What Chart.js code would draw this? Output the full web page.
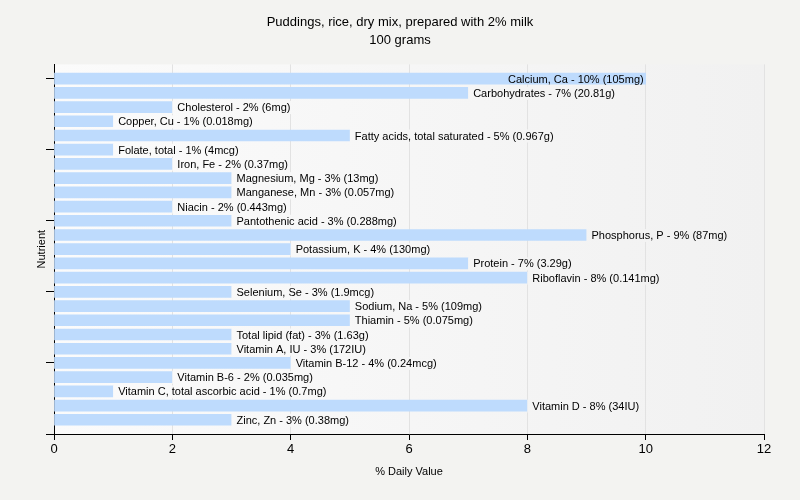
<!DOCTYPE html>
<html>
<head>
<meta charset="utf-8">
<script src="https://cdn.jsdelivr.net/npm/chart.js@4/dist/chart.umd.min.js"></script>
<style>
  html, body { margin: 0; padding: 0; background: #f3f3f1; }
  #wrap { width: 800px; height: 500px; }
</style>
</head>
<body>
<div id="wrap"><canvas id="chart" width="800" height="500"></canvas></div>
<script>
// nutrient names, % daily value and the amount shown in brackets
var nutrients = ["Calcium, Ca", "Carbohydrates", "Cholesterol", "Copper, Cu", "Fatty acids, total saturated",
  "Folate, total", "Iron, Fe", "Magnesium, Mg", "Manganese, Mn", "Niacin", "Pantothenic acid",
  "Phosphorus, P", "Potassium, K", "Protein", "Riboflavin", "Selenium, Se", "Sodium, Na", "Thiamin",
  "Total lipid (fat)", "Vitamin A, IU", "Vitamin B-12", "Vitamin B-6", "Vitamin C, total ascorbic acid",
  "Vitamin D", "Zinc, Zn"];
var dailyValue = [10, 7, 2, 1, 5, 1, 2, 3, 3, 2, 3, 9, 4, 7, 8, 3, 5, 5, 3, 3, 4, 2, 1, 8, 3];
var amounts = ["105mg", "20.81g", "6mg", "0.018mg", "0.967g", "4mcg", "0.37mg", "13mg", "0.057mg",
  "0.443mg", "0.288mg", "87mg", "130mg", "3.29g", "0.141mg", "1.9mcg", "109mg", "0.075mg", "1.63g",
  "172IU", "0.24mcg", "0.035mg", "0.7mg", "34IU", "0.38mg"];
var xTicks = [0, 2, 4, 6, 8, 10, 12];
var yTicks = [0, 5, 10, 15, 20, 25];

var FONT = "'Liberation Sans', Arial, sans-serif";

var points = dailyValue.map(function (v, i) { return { x: v, y: i }; });

function plotGradient(ctx, a) {
  var g = ctx.createLinearGradient(a.left, 0, a.right, 0);
  g.addColorStop(0, '#fbfbfb');
  g.addColorStop(1, '#f1f1f1');
  return g;
}

// page + plot background
var backgroundPlugin = {
  id: 'bg',
  beforeDraw: function (chart) {
    var ctx = chart.ctx, a = chart.chartArea;
    ctx.save();
    ctx.fillStyle = '#f3f3f1';
    ctx.fillRect(0, 0, chart.width, chart.height);
    ctx.fillStyle = plotGradient(ctx, a);
    ctx.fillRect(a.left, a.top, a.right - a.left, a.bottom - a.top);
    ctx.restore();
  }
};

// text next to (or inside) each bar
var labelPlugin = {
  id: 'barLabels',
  afterDatasetsDraw: function (chart) {
    var ctx = chart.ctx, a = chart.chartArea;
    var meta = chart.getDatasetMeta(0);
    ctx.save();
    ctx.font = '11px ' + FONT;
    ctx.textBaseline = 'middle';
    meta.data.forEach(function (bar, i) {
      var txt = nutrients[i] + ' - ' + dailyValue[i] + '% (' + amounts[i] + ')';
      var w = ctx.measureText(txt).width;
      if (bar.x + 5 + w > a.right) {
        ctx.textAlign = 'right';
        ctx.fillStyle = '#000';
        ctx.fillText(txt, bar.x - 2, bar.y + 1);
      } else {
        // box in plot colour hides the grid line behind the text
        ctx.fillStyle = plotGradient(ctx, a);
        ctx.fillRect(bar.x, bar.y - 6, w + 7, 13);
        ctx.textAlign = 'left';
        ctx.fillStyle = '#000';
        ctx.fillText(txt, bar.x + 5, bar.y + 1);
      }
    });
    ctx.restore();
  }
};

var ctx = document.getElementById('chart').getContext('2d');
var chart = new Chart(ctx, {
  type: 'bar',
  data: {
    datasets: [{
      data: points,
      backgroundColor: 'rgb(190, 219, 253)',
      borderWidth: 0,
      barThickness: 11
    }]
  },
  plugins: [backgroundPlugin, labelPlugin],
  options: {
    indexAxis: 'y',
    responsive: false,
    animation: false,
    layout: { padding: 0 },
    plugins: {
      legend: { display: false },
      tooltip: { enabled: false },
      title: {
        display: true,
        text: ['Puddings, rice, dry mix, prepared with 2% milk', '100 grams'],
        color: '#000',
        font: { family: FONT, size: 13, weight: 'normal', lineHeight: 1.4 },
        padding: { top: 13, bottom: 15 }
      }
    },
    scales: {
      x: {
        type: 'linear',
        min: 0,
        max: 12,
        afterBuildTicks: function (s) { s.ticks = xTicks.map(function (v) { return { value: v }; }); },
        afterFit: function (s) { s.height = 66; },
        ticks: { color: '#000', font: { family: FONT, size: 13 }, padding: 2 },
        grid: { color: '#e2e2e2', tickColor: '#000', tickLength: 6 },
        border: { color: '#000', width: 1 },
        title: {
          display: true,
          text: '% Daily Value',
          color: '#000',
          font: { family: FONT, size: 11 },
          padding: 21
        }
      },
      y: {
        type: 'linear',
        min: -1,
        max: 25,
        reverse: true,
        offset: false,
        afterBuildTicks: function (s) { s.ticks = yTicks.map(function (v) { return { value: v }; }); },
        afterFit: function (s) { s.width = 54; },
        ticks: { display: false },
        grid: { offset: false, drawOnChartArea: false, tickColor: '#000', tickLength: 8 },
        border: { color: '#000', width: 1 },
        title: {
          display: true,
          text: 'Nutrient',
          color: '#000',
          font: { family: FONT, size: 11 },
          padding: 35
        }
      },
      // empty right-hand scale, only keeps the margin right of the plot
      yRight: {
        type: 'linear',
        position: 'right',
        afterFit: function (s) { s.width = 36; },
        ticks: { display: false },
        grid: { display: false },
        border: { display: false }
      }
    }
  }
});
</script>
</body>
</html>
